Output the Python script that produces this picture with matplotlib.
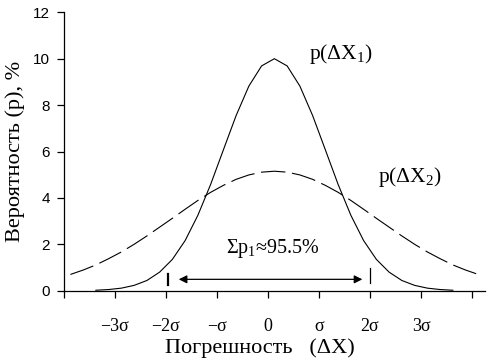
import matplotlib
matplotlib.use("Agg")
import matplotlib.pyplot as plt

plt.rcParams["mathtext.fontset"] = "custom"
plt.rcParams["mathtext.rm"] = "Liberation Serif"
plt.rcParams["mathtext.it"] = "Liberation Serif:italic"
plt.rcParams["mathtext.bf"] = "Liberation Serif:bold"

# Curve 1 (solid) p(ΔX1), values in %
x1 = [-3.375, -3.125, -2.875, -2.625, -2.375, -2.125, -1.875, -1.625, -1.375, -1.125,
      -0.875, -0.625, -0.375, -0.125, 0.125, 0.375, 0.625, 0.875, 1.125, 1.375,
      1.625, 1.875, 2.125, 2.375, 2.625, 2.875, 3.125, 3.375, 3.625]
p1 = [0.02, 0.05, 0.11, 0.23, 0.44, 0.80, 1.35, 2.16, 3.25, 4.58,
      6.07, 7.55, 8.82, 9.69, 10.0, 9.69, 8.82, 7.55, 6.07, 4.58,
      3.25, 2.16, 1.35, 0.80, 0.44, 0.23, 0.11, 0.05, 0.02]

# Curve 2 (dashed) p(ΔX2), values in %
x2 = [-3.875, -3.625, -3.375, -3.125, -2.875, -2.625, -2.375, -2.125, -1.875, -1.625,
      -1.375, -1.125, -0.875, -0.625, -0.375, -0.125, 0.125, 0.375, 0.625, 0.875,
      1.125, 1.375, 1.625, 1.875, 2.125, 2.375, 2.625, 2.875, 3.125, 3.375,
      3.625, 3.875, 4.125]
p2 = [0.70, 0.89, 1.11, 1.38, 1.67, 2.00, 2.36, 2.74, 3.12, 3.51,
      3.89, 4.24, 4.54, 4.80, 4.99, 5.11, 5.15, 5.11, 4.99, 4.80,
      4.54, 4.24, 3.89, 3.51, 3.12, 2.74, 2.36, 2.00, 1.67, 1.38,
      1.11, 0.89, 0.70]

xtick_pos = [-4, -3, -2, -1, 0, 1, 2, 3, 4]
xtick_labels = ["", "\u22123\u03c3", "\u22122\u03c3", "\u2212\u03c3", "0", "\u03c3", "2\u03c3", "3\u03c3", ""]
ytick_pos = [0, 2, 4, 6, 8, 10, 12]

serif = ["Liberation Serif", "DejaVu Serif"]
sans = ["Liberation Sans", "DejaVu Sans"]

fig = plt.figure(figsize=(4.93, 3.62), dpi=100)
ax = fig.add_axes([64 / 493, 1 - 290.7 / 362, (485 - 64) / 493, (290.7 - 12.3) / 362])

ax.plot(x1, p1, color="black", lw=0.8)
ax.plot(x2, p2, color="black", lw=0.8, dashes=(22, 6))

ax.set_xlim(-4, 4.255)
ax.set_ylim(0, 12)

for s in ["top", "right"]:
    ax.spines[s].set_visible(False)
for s in ["left", "bottom"]:
    ax.spines[s].set_linewidth(0.9)

ax.set_xticks(xtick_pos)
ax.set_xticklabels(xtick_labels, family=serif, fontsize=13)
ax.set_yticks(ytick_pos)
ax.set_yticklabels([str(v) for v in ytick_pos], family=sans, fontsize=11)
ax.tick_params(axis="x", direction="out", length=5, width=0.9, pad=15)
ax.tick_params(axis="y", direction="out", length=5, width=0.9, pad=5)

ax.set_xlabel("\u041f\u043e\u0433\u0440\u0435\u0448\u043d\u043e\u0441\u0442\u044c   (\u0394X)",
              family=serif, fontsize=16)
ax.xaxis.set_label_coords(0.466, -0.172)
ax.set_ylabel("\u0412\u0435\u0440\u043e\u044f\u0442\u043d\u043e\u0441\u0442\u044c (\u0440), %",
              family=serif, fontsize=16, labelpad=6)

ax.text(1.42, 10.2, "p(\u0394X$_1$)", family=serif, fontsize=15.5, ha="center", va="center")
ax.text(2.78, 4.88, "p(\u0394X$_2$)", family=serif, fontsize=15.5, ha="center", va="center")
ax.text(0.1, 1.8, "\u03a3p$_1$\u224895.5%", family=serif, fontsize=14.5, ha="center", va="center")

# double arrow and bars marking ±2σ
ax.annotate("", xy=(1.85, 0.49), xytext=(-1.75, 0.49),
            arrowprops=dict(arrowstyle="<|-|>", color="black", lw=0.9,
                            mutation_scale=12, shrinkA=0, shrinkB=0))
ax.plot([-1.97, -1.97], [0.25, 0.72], color="black", lw=1.6)
ax.plot([2.0, 2.0], [0.33, 0.98], color="black", lw=0.9)

fig.savefig("out.png", dpi=100)
